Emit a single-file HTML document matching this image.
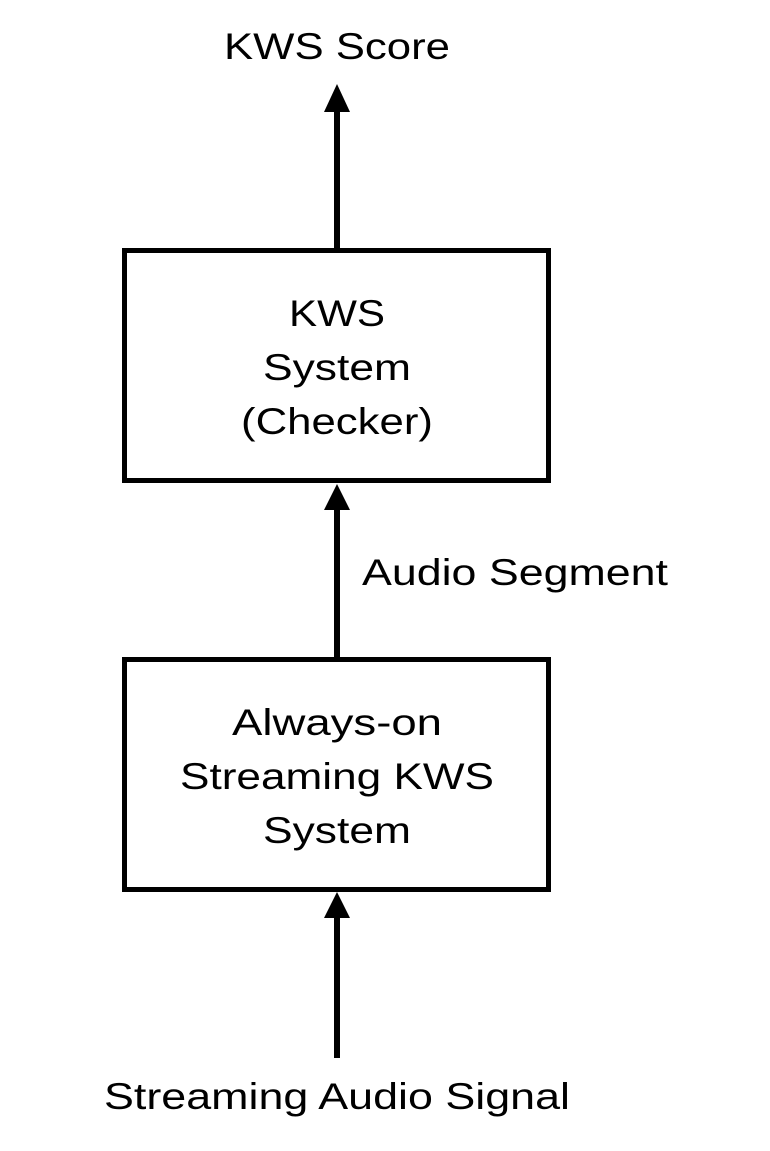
<!DOCTYPE html>
<html><head><meta charset="utf-8"><style>html,body{margin:0;padding:0;background:#fff}</style></head>
<body>
<svg width="770" height="1146" viewBox="0 0 770 1146" xmlns="http://www.w3.org/2000/svg" font-family="Liberation Sans, Arial, sans-serif" font-size="37" fill="#000">
<rect x="0" y="0" width="770" height="1146" fill="#fff"/>
<rect x="124.5" y="250.5" width="424" height="230" fill="none" stroke="#000" stroke-width="5"/>
<rect x="124.5" y="659.5" width="424" height="230" fill="none" stroke="#000" stroke-width="5"/>
<!-- arrows -->
<rect x="334" y="110" width="6" height="140"/>
<polygon points="337,84 324,112 350,112"/>
<rect x="334" y="508" width="6" height="150"/>
<polygon points="337,484 324,510 350,510"/>
<rect x="334" y="916" width="6" height="142"/>
<polygon points="337,892 324,918 350,918"/>
<g text-anchor="middle">
<text x="337" y="59" textLength="226" lengthAdjust="spacingAndGlyphs">KWS Score</text>
<text x="337" y="326" textLength="96" lengthAdjust="spacingAndGlyphs">KWS</text>
<text x="337" y="380" textLength="148" lengthAdjust="spacingAndGlyphs">System</text>
<text x="337" y="434" textLength="192" lengthAdjust="spacingAndGlyphs">(Checker)</text>
<text x="337" y="735" textLength="210" lengthAdjust="spacingAndGlyphs">Always-on</text>
<text x="337" y="789" textLength="314" lengthAdjust="spacingAndGlyphs">Streaming KWS</text>
<text x="337" y="843" textLength="148" lengthAdjust="spacingAndGlyphs">System</text>
<text x="337" y="1109" textLength="466" lengthAdjust="spacingAndGlyphs">Streaming Audio Signal</text>
</g>
<text x="362" y="585" textLength="306" lengthAdjust="spacingAndGlyphs">Audio Segment</text>
</svg>
</body></html>
